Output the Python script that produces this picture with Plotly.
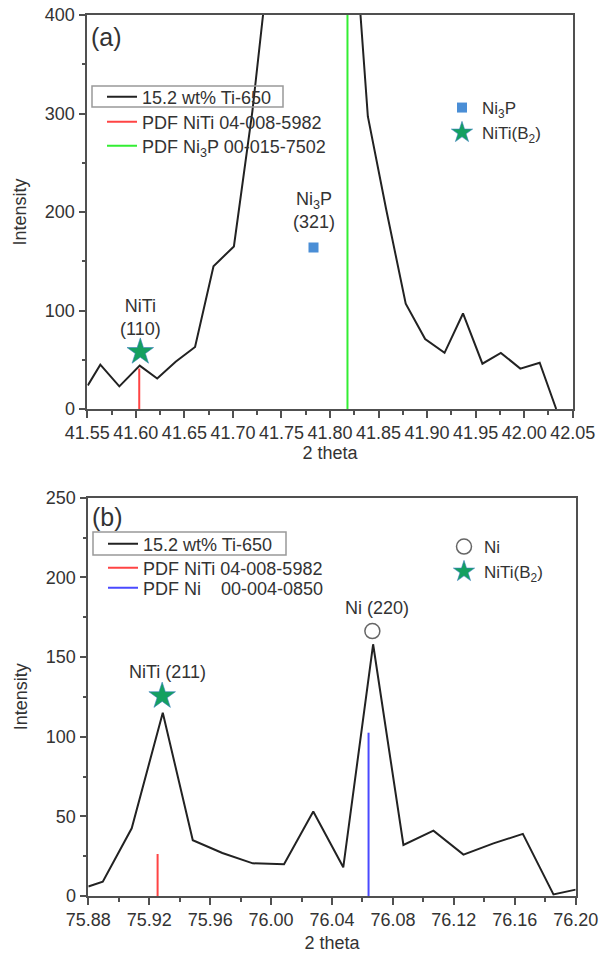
import plotly.graph_objects as go

# ---- panel (a): 15.2 wt% Ti-650, 2θ window around 41.8°
theta_a = [41.5505, 41.5634, 41.583, 41.604, 41.622, 41.641, 41.661, 41.680, 41.701,
           41.720, 41.740, 41.760, 41.780, 41.800, 41.820, 41.839, 41.858, 41.878,
           41.898, 41.918, 41.937, 41.957, 41.976, 41.996, 42.016, 42.033]
int_a = [24, 45, 23, 44, 31, 48, 63, 145, 165,
         302, 480, 900, 1150, 900, 555, 297, 202, 107,
         71, 57, 97, 46, 57, 41, 47, 0]

pdf_niti_a = (41.6035, 41)      # PDF NiTi 04-008-5982
pdf_ni3p_a = (41.818, 1000)     # PDF Ni3P 00-015-7502
mark_niti_a = (41.6046, 58)
mark_ni3p_a = (41.783, 164)

# ---- panel (b): 2θ window around 76.0°
theta_b = [75.880, 75.8895, 75.9085, 75.9289, 75.9486, 75.968, 75.988, 76.0085,
           76.0277, 76.0474, 76.067, 76.0869, 76.1066, 76.1263, 76.146, 76.1653,
           76.1854, 76.200]
int_b = [6, 9, 42.5, 115, 35, 27, 20.5, 20,
         53, 18, 158, 32, 41, 26, 33, 39,
         1, 4]

pdf_niti_b = (75.9255, 26.4)    # PDF NiTi 04-008-5982
pdf_ni_b = (76.064, 102.5)      # PDF Ni 00-004-0850
mark_niti_b = (75.9285, 125.5)
mark_ni_b = (76.0665, 166.3)

FONT = "Liberation Sans, Arial, sans-serif"
TXT = "#333333"
AX = "#505050"
STAR = "#14a060"
RED = "#ff4444"
GREEN = "#33ee33"
BLUE = "#4a4aff"

W, H = 599, 959


def px(x):
    return x / W


def py(y):
    return 1 - y / H


fig = go.Figure()
legends = {}


def entry(key, left, center_y, size):
    # one legend box per entry so every row sits where it should
    legends[key] = dict(x=px(left), y=py(center_y), xanchor="left", yanchor="middle",
                        bgcolor="rgba(0,0,0,0)", borderwidth=0,
                        font=dict(family=FONT, size=size, color=TXT))


# panel (a) traces
fig.add_trace(go.Scatter(x=theta_a, y=int_a, mode="lines", name="15.2 wt% Ti-650",
                         line=dict(color="#222222", width=2), legend="legend",
                         xaxis="x", yaxis="y"))
entry("legend", 102, 97, 18)
fig.add_trace(go.Scatter(x=[pdf_niti_a[0]] * 2, y=[0, pdf_niti_a[1]], mode="lines",
                         name="PDF NiTi 04-008-5982", line=dict(color=RED, width=2),
                         legend="legend2", xaxis="x", yaxis="y"))
entry("legend2", 102, 122, 18)
fig.add_trace(go.Scatter(x=[pdf_ni3p_a[0]] * 2, y=[0, pdf_ni3p_a[1]], mode="lines",
                         name="PDF Ni<sub>3</sub>P 00-015-7502",
                         line=dict(color=GREEN, width=2),
                         legend="legend3", xaxis="x", yaxis="y"))
entry("legend3", 102, 146, 18)
fig.add_trace(go.Scatter(x=[mark_ni3p_a[0]], y=[mark_ni3p_a[1]], mode="markers",
                         name="Ni<sub>3</sub>P",
                         marker=dict(symbol="square", size=10, color="#4a8ed6"),
                         legend="legend4", xaxis="x", yaxis="y"))
entry("legend4", 442, 108, 17)
fig.add_trace(go.Scatter(x=[mark_niti_a[0]], y=[mark_niti_a[1]], mode="markers",
                         name="NiTi(B<sub>2</sub>)",
                         marker=dict(symbol="star", size=20, color=STAR,
                                     line=dict(color="#3a7fc0", width=0.6)),
                         legend="legend5", xaxis="x", yaxis="y"))
entry("legend5", 442, 133, 17)

# panel (b) traces
fig.add_trace(go.Scatter(x=theta_b, y=int_b, mode="lines", name="15.2 wt% Ti-650",
                         line=dict(color="#222222", width=2), legend="legend6",
                         xaxis="x2", yaxis="y2"))
entry("legend6", 103, 544, 18)
fig.add_trace(go.Scatter(x=[pdf_niti_b[0]] * 2, y=[0, pdf_niti_b[1]], mode="lines",
                         name="PDF NiTi 04-008-5982", line=dict(color=RED, width=2),
                         legend="legend7", xaxis="x2", yaxis="y2"))
entry("legend7", 103, 568, 18)
fig.add_trace(go.Scatter(x=[pdf_ni_b[0]] * 2, y=[0, pdf_ni_b[1]], mode="lines",
                         name="PDF Ni\u00a0\u00a0\u00a0\u00a000-004-0850",
                         line=dict(color=BLUE, width=2),
                         legend="legend8", xaxis="x2", yaxis="y2"))
entry("legend8", 103, 588, 18)
fig.add_trace(go.Scatter(x=[mark_ni_b[0]], y=[mark_ni_b[1]], mode="markers",
                         name="Ni",
                         marker=dict(symbol="circle-open", size=15, color="#666666",
                                     line=dict(width=1.5)),
                         legend="legend9", xaxis="x2", yaxis="y2"))
entry("legend9", 444, 547, 17)
fig.add_trace(go.Scatter(x=[mark_niti_b[0]], y=[mark_niti_b[1]], mode="markers",
                         name="NiTi(B<sub>2</sub>)",
                         marker=dict(symbol="star", size=20, color=STAR,
                                     line=dict(color="#3a7fc0", width=0.6)),
                         legend="legend10", xaxis="x2", yaxis="y2"))
entry("legend10", 444, 572, 17)

common_axis = dict(showline=True, linecolor=AX, linewidth=1.6, mirror=True,
                   ticks="outside", ticklen=7, tickwidth=1.5, tickcolor=AX,
                   showgrid=False, zeroline=False, automargin=False,
                   tickfont=dict(family=FONT, size=18, color=TXT),
                   title_font=dict(family=FONT, size=18, color=TXT))
minor = dict(ticks="outside", ticklen=4, tickwidth=1.5, tickcolor=AX, showgrid=False)

fig.update_layout(
    width=W, height=H,
    margin=dict(l=0, r=0, t=0, b=0),
    paper_bgcolor="white", plot_bgcolor="white",
    font=dict(family=FONT, size=18, color=TXT),
    xaxis=dict(common_axis, domain=[px(87.3), px(572.7)], range=[41.55, 42.05],
               dtick=0.05, tick0=41.55, tickformat=".2f",
               minor=dict(minor, dtick=0.025), anchor="y",
               title=dict(text="2 theta", standoff=4)),
    yaxis=dict(common_axis, domain=[py(409), py(15)], range=[0, 400], dtick=100,
               minor=dict(minor, dtick=50), anchor="x",
               title=dict(text="Intensity", standoff=14)),
    xaxis2=dict(common_axis, domain=[px(88.3), px(575.7)], range=[75.88, 76.20],
                dtick=0.04, tick0=75.88, tickformat=".2f",
                minor=dict(minor, dtick=0.02), anchor="y2",
                title=dict(text="2 theta", standoff=7)),
    yaxis2=dict(common_axis, domain=[py(896), py(497.7)], range=[0, 250], dtick=50,
                minor=dict(minor, dtick=25), anchor="x2",
                title=dict(text="Intensity", standoff=14)),
    showlegend=True,
    **legends,
)

# frame drawn round the first legend row of each panel
fig.update_layout(shapes=[
    dict(type="rect", xref="paper", yref="paper", x0=px(92), x1=px(283),
         y0=py(107), y1=py(86), line=dict(color="#999999", width=1.5)),
    dict(type="rect", xref="paper", yref="paper", x0=px(93), x1=px(286),
         y0=py(555), y1=py(532), line=dict(color="#999999", width=1.5)),
])

ann = [
    dict(text="(a)", x=px(89), y=py(37), xref="paper", yref="paper",
         xanchor="left", yanchor="middle", showarrow=False, font=dict(size=25)),
    dict(text="(b)", x=px(90), y=py(517), xref="paper", yref="paper",
         xanchor="left", yanchor="middle", showarrow=False, font=dict(size=25)),
    dict(text="NiTi<br>(110)", x=mark_niti_a[0], y=93, xref="x", yref="y",
         showarrow=False, font=dict(size=18)),
    dict(text="Ni<sub>3</sub>P<br>(321)", x=mark_ni3p_a[0], y=202, xref="x", yref="y",
         showarrow=False, font=dict(size=18)),
    dict(text="NiTi (211)", x=75.9317, y=140.8, xref="x2", yref="y2",
         showarrow=False, font=dict(size=18)),
    dict(text="Ni (220)", x=76.0694, y=180.6, xref="x2", yref="y2",
         showarrow=False, font=dict(size=18)),
]
fig.update_layout(annotations=ann)

fig.write_html("out.html")
